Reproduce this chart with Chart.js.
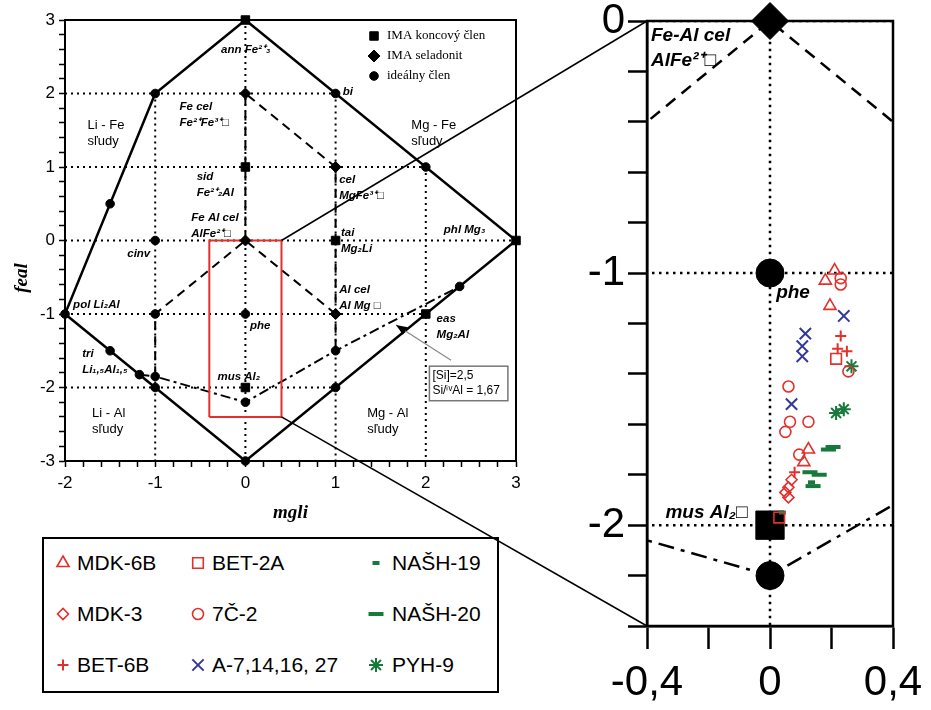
<!DOCTYPE html>
<html lang="sk">
<head>
<meta charset="utf-8">
<title>feal - mgli</title>
<script src="https://cdn.jsdelivr.net/npm/chart.js@4.4.1/dist/chart.umd.min.js"></script>
<style>
  body { margin: 0; background: #fff; }
  #page { position: relative; width: 931px; height: 710px; overflow: hidden; font-family: "Liberation Sans", Arial, sans-serif; }
  #mainChart { position: absolute; left: 0; top: 0; }
  #zoomChart { position: absolute; left: 580px; top: 0; }
  #links { position: absolute; left: 0; top: 0; pointer-events: none; }
  #legend { position: absolute; left: 42px; top: 537px; width: 457px; height: 156px; box-sizing: border-box; border: 2px solid #000; }
  #legend canvas { position: absolute; }
  #legend span { position: absolute; font-size: 21px; line-height: 24px; color: #000; white-space: nowrap; }
</style>
</head>
<body>
<div id="page">
  <canvas id="mainChart" width="540" height="530"></canvas>
  <canvas id="zoomChart" width="351" height="710"></canvas>
  <div id="legend"></div>
  <canvas id="links" width="931" height="710"></canvas>
</div>
<script>
// end members in mgli / feal coordinates
const imaEnd = [[0, 3], [0, 1], [1, 0], [3, 0], [2, -1], [0, -2]];          // IMA koncovy clen
const imaCel = [[0, 2], [1, 1], [0, 0], [1, -1]];                            // IMA seladonit
const ideal = [[-1, 2], [1, 2], [2, 1], [-1.5, 0.5], [-1, 0], [-2, -1], [-1, -1], [0, -1],
  [-1.5, -1.5], [-1.175, -1.825], [-1, -1.85], [0, -2.2], [1, -1.5], [2.375, -0.625],
  [1, -2], [-1, -2], [0, -3]];                                               // idealny clen

// lines of the diagram
const boundary = [[-2, -1], [-1, 2], [0, 3], [3, 0], [0, -3], [-2, -1]];
const celPathA = [[0, 0], [0, 2], [1, 1], [1, -1.5]];
const celPathB = [[1, -1], [0, 0], [-1, -1], [-1, -1.85]];
const si25 = [[-1.175, -1.825], [-1, -1.85], [0, -2.2], [1, -1.5], [2.375, -0.625]];
const gridRows = [[2, -2, 1], [1, -2, 2], [0, -2, 3], [-1, -2, 2], [-2, -2, 1]]; // y, from x, to x
const gridCols = [[-1, 2, -3], [0, 3, -3], [1, 2, -3], [2, 1, -3]];              // x, from y, to y

// axis ranges
const mgliRange = [-2, 3];
const fealRange = [-3, 3];
const zoomX = [-0.4, 0.4];
const zoomY = [-2.4, 0];

// analysed samples (mgli, feal)
const seriesNames = ['MDK-6B', 'MDK-3', 'BET-6B', 'BET-2A', '7Č-2', 'A-7,14,16, 27', 'NAŠH-19', 'NAŠH-20', 'PYH-9'];
const mdk6b = [[0.21, -0.99], [0.18, -1.03], [0.195, -1.13], [0.125, -1.70], [0.11, -1.75]];
const mdk3 = [[0.07, -1.82], [0.06, -1.85], [0.05, -1.87], [0.06, -1.89]];
const bet6b = [[0.23, -1.25], [0.22, -1.30], [0.25, -1.31], [0.08, -1.79]];
const bet2a = [[0.215, -1.34], [0.03, -1.97]];
const c72 = [[0.23, -1.02], [0.23, -1.045], [0.255, -1.39], [0.06, -1.45], [0.065, -1.59],
  [0.05, -1.63], [0.125, -1.59], [0.095, -1.72]];
const a7 = [[0.24, -1.17], [0.115, -1.24], [0.105, -1.29], [0.105, -1.33], [0.07, -1.52]];
const nash19 = [[0.04, -1.95], [0.135, -1.83]];
const nash20 = [[0.19, -1.70], [0.205, -1.69], [0.13, -1.79], [0.16, -1.80], [0.14, -1.845]];
const pyh9 = [[0.265, -1.37], [0.24, -1.54], [0.215, -1.555]];
const sampleData = [mdk6b, mdk3, bet6b, bet2a, c72, a7, nash19, nash20, pyh9];

// ---- styles ----
const RED = '#e2302c', BLUE = '#34389a', GREEN = '#17793b';
const sampleMarks = [
  { pointStyle: 'triangle', color: RED, radius: 7, borderWidth: 1.6 },
  { pointStyle: 'rectRot', color: RED, radius: 5.5, borderWidth: 1.6 },
  { pointStyle: 'cross', color: RED, radius: 5.5, borderWidth: 2 },
  { pointStyle: 'rect', color: RED, radius: 7.5, borderWidth: 1.6 },
  { pointStyle: 'circle', color: RED, radius: 5.5, borderWidth: 1.6 },
  { pointStyle: 'crossRot', color: BLUE, radius: 8, borderWidth: 2 },
  { pointStyle: 'line', color: GREEN, radius: 3.5, borderWidth: 4 },
  { pointStyle: 'line', color: GREEN, radius: 7.5, borderWidth: 4 },
  { pointStyle: 'star', color: GREEN, radius: 7, borderWidth: 2 }
];
const leftStyle = { dotW: 2, dot: [2, 4], dashW: 2, dash: [9, 6], dashDot: [10, 4, 3, 4], solidW: 2.5 };
const rightStyle = { dotW: 2.5, dot: [2.5, 4.5], dashW: 2.5, dash: [12, 8], dashDot: [16, 7, 4, 7], solidW: 2.5 };

Chart.defaults.font.family = '"Liberation Sans", Arial, sans-serif';
Chart.defaults.color = '#000';

const pts = a => a.map(([x, y]) => ({ x, y }));
const isInt = v => Math.abs(v - Math.round(v)) < 1e-6;
const inZoom = ([x, y]) => x >= zoomX[0] - 1e-9 && x <= zoomX[1] + 1e-9 && y >= zoomY[0] - 1e-9 && y <= zoomY[1] + 1e-9;

function lineSet(points, width, dash, color) {
  return {
    data: pts(points), showLine: true, borderColor: color || '#000', borderWidth: width,
    borderDash: dash, borderJoinStyle: 'miter', pointRadius: 0, pointHoverRadius: 0,
    fill: false, order: 10, clip: 1
  };
}

function frameLines(st) {
  const sets = [];
  gridRows.forEach(([y, a, b]) => sets.push(lineSet([[a, y], [b, y]], st.dotW, st.dot)));
  gridCols.forEach(([x, a, b]) => sets.push(lineSet([[x, a], [x, b]], st.dotW, st.dot)));
  sets.push(lineSet(celPathA, st.dashW, st.dash));
  sets.push(lineSet(celPathB, st.dashW, st.dash));
  sets.push(lineSet(si25, st.dashW, st.dashDot));
  sets.push(lineSet(boundary, st.solidW, []));
  return sets;
}

function markerSet(points, style, r, keep) {
  return {
    data: pts(keep ? points.filter(keep) : points), showLine: false,
    pointStyle: style, pointRadius: r, pointHoverRadius: r,
    pointBackgroundColor: '#000', pointBorderColor: '#000', pointBorderWidth: 1,
    order: 2, clip: false
  };
}

function mark(ctx, m, x, y, fill) {
  ctx.save();
  ctx.setLineDash([]);
  ctx.lineWidth = m.borderWidth;
  ctx.strokeStyle = m.color;
  ctx.fillStyle = fill || 'rgba(0,0,0,0)';
  Chart.helpers.drawPoint(ctx, { pointStyle: m.pointStyle, radius: m.radius, borderWidth: m.borderWidth, rotation: 0 }, x, y);
  ctx.restore();
}

// frame + text drawn through the chart's own scales
function notesPlugin(id, notes, frameWidth, extra) {
  return {
    id,
    beforeDatasetsDraw(chart) {
      const { ctx, chartArea: a } = chart;
      ctx.save();
      ctx.strokeStyle = '#000';
      ctx.lineWidth = frameWidth;
      ctx.strokeRect(a.left, a.top, a.right - a.left, a.bottom - a.top);
      ctx.restore();
    },
    afterDatasetsDraw(chart) {
      const { ctx, scales: { x, y } } = chart;
      ctx.save();
      ctx.fillStyle = '#000';
      ctx.textBaseline = 'middle';
      ctx.textAlign = 'left';
      notes.forEach(n => {
        ctx.font = n.font;
        const px = x.getPixelForValue(n.at[0]);
        const py = y.getPixelForValue(n.at[1]);
        n.lines.forEach((t, i) => ctx.fillText(t, px, py + i * (n.gap || 16)));
      });
      if (extra) extra(chart, ctx);
      ctx.restore();
    }
  };
}

const B = 'italic bold 11.5px "Liberation Sans"';
const R = '13px "Liberation Sans"';
const mainNotes = [
  { at: [-0.27, 2.59], lines: ['ann Fe²⁺₃'], font: B },
  { at: [1.08, 2.02], lines: ['bi'], font: B },
  { at: [-0.73, 1.82], lines: ['Fe cel', 'Fe²⁺Fe³⁺□'], font: B },
  { at: [-0.54, 0.86], lines: ['sid', 'Fe²⁺₂Al'], font: B },
  { at: [-0.6, 0.31], lines: ['Fe Al cel', 'AlFe²⁺□'], font: B },
  { at: [-1.31, -0.18], lines: ['cinv'], font: B },
  { at: [1.04, 0.82], lines: ['cel', 'MgFe³⁺□'], font: B },
  { at: [1.06, 0.1], lines: ['tai', 'Mg₂Li'], font: B },
  { at: [2.2, 0.14], lines: ['phl Mg₃'], font: B },
  { at: [1.04, -0.67], lines: ['Al cel', 'Al Mg □'], font: B },
  { at: [-1.91, -0.88], lines: ['pol Li₂Al'], font: B },
  { at: [0.05, -1.16], lines: ['phe'], font: B },
  { at: [-1.81, -1.54], lines: ['tri', 'Li₁,₅Al₁,₅'], font: B },
  { at: [-0.31, -1.86], lines: ['mus Al₂'], font: B },
  { at: [2.12, -1.07], lines: ['eas', 'Mg₂Al'], font: B },
  { at: [-1.75, 1.57], lines: ['Li - Fe', 'sľudy'], font: R },
  { at: [1.84, 1.57], lines: ['Mg - Fe', 'sľudy'], font: R },
  { at: [-1.7, -2.35], lines: ['Li - Al', 'sľudy'], font: R },
  { at: [1.35, -2.35], lines: ['Mg - Al', 'sľudy'], font: R }
];

const Bz = 'italic bold 19px "Liberation Sans"';
const zoomNotes = [
  { at: [-0.387, -0.057], lines: ['Fe-Al cel', 'AlFe²⁺□'], font: Bz, gap: 25 },
  { at: [0.02, -1.08], lines: ['phe'], font: Bz },
  { at: [-0.34, -1.95], lines: ['mus Al₂□'], font: Bz }
];

function mainExtras(chart, ctx) {
  const { x, y } = chart.scales;
  const a = chart.chartArea;
  // y axis title
  ctx.save();
  ctx.translate(22, 278);
  ctx.rotate(-Math.PI / 2);
  ctx.textAlign = 'center';
  ctx.font = 'italic bold 19px "Liberation Serif"';
  ctx.fillText('feal', 0, 0);
  ctx.restore();

  // symbol key, top right
  const key = [
    ['IMA koncový člen', { pointStyle: 'rect', radius: 6, borderWidth: 1, color: '#000' }],
    ['IMA seladonit', { pointStyle: 'rectRot', radius: 6, borderWidth: 1, color: '#000' }],
    ['ideálny člen', { pointStyle: 'circle', radius: 4.3, borderWidth: 1, color: '#000' }]
  ];
  ctx.font = '13px "Liberation Serif"';
  key.forEach(([t, m], i) => {
    const ky = a.top + 16 + i * 20;
    mark(ctx, m, a.right - 142, ky, '#000');
    ctx.fillText(t, a.right - 129, ky);
  });

  // [Si] note with arrow
  const bx0 = x.getPixelForValue(2.04), bx1 = x.getPixelForValue(2.91);
  const by0 = y.getPixelForValue(-1.71), by1 = y.getPixelForValue(-2.18);
  const tipX = x.getPixelForValue(1.67), tipY = y.getPixelForValue(-1.15);
  const tailX = x.getPixelForValue(2.28), tailY = y.getPixelForValue(-1.63);
  ctx.strokeStyle = '#888';
  ctx.lineWidth = 1.2;
  ctx.setLineDash([]);
  ctx.beginPath(); ctx.moveTo(tailX, tailY); ctx.lineTo(tipX, tipY); ctx.stroke();
  const ang = Math.atan2(tipY - tailY, tipX - tailX);
  ctx.fillStyle = '#000';
  ctx.beginPath();
  ctx.moveTo(tipX, tipY);
  ctx.lineTo(tipX - 11 * Math.cos(ang) + 4.5 * Math.sin(ang), tipY - 11 * Math.sin(ang) - 4.5 * Math.cos(ang));
  ctx.lineTo(tipX - 11 * Math.cos(ang) - 4.5 * Math.sin(ang), tipY - 11 * Math.sin(ang) + 4.5 * Math.cos(ang));
  ctx.closePath(); ctx.fill();
  ctx.fillStyle = '#fff';
  ctx.fillRect(bx0, by0, bx1 - bx0, by1 - by0);
  ctx.strokeStyle = '#777';
  ctx.lineWidth = 1.5;
  ctx.strokeRect(bx0, by0, bx1 - bx0, by1 - by0);
  ctx.fillStyle = '#000';
  ctx.font = '12px "Liberation Sans"';
  ctx.fillText('[Si]=2,5', bx0 + 3, by0 + 10);
  ctx.fillText('Si/ⁱᵛAl = 1,67', bx0 + 3, by0 + 25);
}

const mainCanvas = document.getElementById('mainChart');
const mainChart = new Chart(mainCanvas, {
  type: 'scatter',
  data: {
    datasets: [
      markerSet(imaEnd, 'rect', 6),
      markerSet(imaCel, 'rectRot', 5.5),
      markerSet(ideal, 'circle', 4.3),
      Object.assign(lineSet([[zoomX[0], zoomY[0]], [zoomX[1], zoomY[0]], [zoomX[1], zoomY[1]],
        [zoomX[0], zoomY[1]], [zoomX[0], zoomY[0]]], 2, [], RED), { order: 5 }),
      ...frameLines(leftStyle)
    ]
  },
  options: {
    responsive: false,
    animation: false,
    events: [],
    layout: { padding: { left: 0, top: 20, right: 24, bottom: 0 } },
    plugins: { legend: { display: false }, tooltip: { enabled: false } },
    scales: {
      x: {
        type: 'linear', min: mgliRange[0], max: mgliRange[1],
        ticks: { stepSize: 0.2, autoSkip: false, maxRotation: 0, color: '#000', font: { size: 17 }, padding: 6,
          callback: v => isInt(v) ? String(Math.round(v)) : '' },
        grid: { drawOnChartArea: false, color: '#000', tickLength: 6, tickWidth: 1.5 },
        border: { color: '#000', width: 2 },
        title: { display: true, text: 'mgli', color: '#000',
          font: { family: '"Liberation Serif"', size: 19, style: 'italic', weight: 'bold' },
          padding: { top: 0, bottom: 6 } },
        afterFit: s => { s.height = 69; }
      },
      y: {
        type: 'linear', min: fealRange[0], max: fealRange[1],
        ticks: { stepSize: 0.2, autoSkip: false, color: '#000', font: { size: 17 }, padding: 4,
          callback: v => isInt(v) ? String(Math.round(v)) : '' },
        grid: { drawOnChartArea: false, color: '#000', tickLength: 6, tickWidth: 1.5 },
        border: { color: '#000', width: 2 },
        afterFit: s => { s.width = 65; }
      }
    }
  },
  plugins: [notesPlugin('mainNotes', mainNotes, 2, mainExtras)]
});

const zoomCanvas = document.getElementById('zoomChart');
const zoomChart = new Chart(zoomCanvas, {
  type: 'scatter',
  data: {
    datasets: [
      ...sampleData.map((d, i) => ({
        label: seriesNames[i], data: pts(d), showLine: false,
        pointStyle: sampleMarks[i].pointStyle, pointRadius: sampleMarks[i].radius,
        pointHoverRadius: sampleMarks[i].radius,
        pointBorderColor: sampleMarks[i].color, pointBackgroundColor: 'rgba(0,0,0,0)',
        pointBorderWidth: sampleMarks[i].borderWidth, order: 1, clip: false
      })),
      markerSet(imaEnd, 'rect', 20, inZoom),
      markerSet(imaCel, 'rectRot', 18.5, inZoom),
      markerSet(ideal, 'circle', 14, inZoom),
      ...frameLines(rightStyle)
    ]
  },
  options: {
    responsive: false,
    animation: false,
    events: [],
    layout: { padding: { left: 0, top: 20, right: 38, bottom: 0 } },
    plugins: { legend: { display: false }, tooltip: { enabled: false } },
    scales: {
      x: {
        type: 'linear', min: zoomX[0], max: zoomX[1],
        ticks: { stepSize: 0.2, autoSkip: false, maxRotation: 0, color: '#000', font: { size: 42 }, padding: 9,
          callback: (v, i) => i % 2 === 0 ? String(Math.round(v * 10) / 10).replace('.', ',') : '' },
        grid: { drawOnChartArea: false, color: '#000', tickLength: 23, tickWidth: 2.5 },
        border: { color: '#000', width: 2.5 },
        afterFit: s => { s.height = 84; s.paddingLeft = 0; s.paddingRight = 0; }
      },
      y: {
        type: 'linear', min: zoomY[0], max: zoomY[1],
        ticks: { stepSize: 0.2, autoSkip: false, color: '#000', font: { size: 42 }, padding: 3,
          callback: v => isInt(v) ? String(Math.round(v)) : '' },
        grid: { drawOnChartArea: false, color: '#000', tickLength: 19, tickWidth: 2.5 },
        border: { color: '#000', width: 2.5 },
        afterFit: s => { s.width = 67; s.paddingTop = 0; s.paddingBottom = 0; }
      }
    }
  },
  plugins: [notesPlugin('zoomNotes', zoomNotes, 2.5)]
});

// lines joining the red window with the enlarged panel
function pageXY(chart, canvas, x, y) {
  return [canvas.offsetLeft + chart.scales.x.getPixelForValue(x), canvas.offsetTop + chart.scales.y.getPixelForValue(y)];
}
const lk = document.getElementById('links').getContext('2d');
lk.strokeStyle = '#000';
lk.lineWidth = 1.5;
[zoomY[1], zoomY[0]].forEach(yv => {
  const p = pageXY(mainChart, mainCanvas, zoomX[1], yv);
  const q = pageXY(zoomChart, zoomCanvas, zoomX[0], yv);
  lk.beginPath(); lk.moveTo(p[0], p[1]); lk.lineTo(q[0], q[1]); lk.stroke();
});

// sample legend, three columns
const legendBox = document.getElementById('legend');
const colPos = [[19, 33], [154, 168], [332, 348]];
const rowPos = [24, 75, 126];
seriesNames.forEach((name, i) => {
  const [cx, tx] = colPos[Math.floor(i / 3)];
  const cy = rowPos[i % 3];
  const c = document.createElement('canvas');
  c.width = 24; c.height = 24;
  c.style.left = (cx - 12) + 'px';
  c.style.top = (cy - 12) + 'px';
  legendBox.appendChild(c);
  mark(c.getContext('2d'), sampleMarks[i], 12, 12);
  const s = document.createElement('span');
  s.textContent = name;
  s.style.left = tx + 'px';
  s.style.top = (cy - 12) + 'px';
  legendBox.appendChild(s);
});
</script>
</body>
</html>
